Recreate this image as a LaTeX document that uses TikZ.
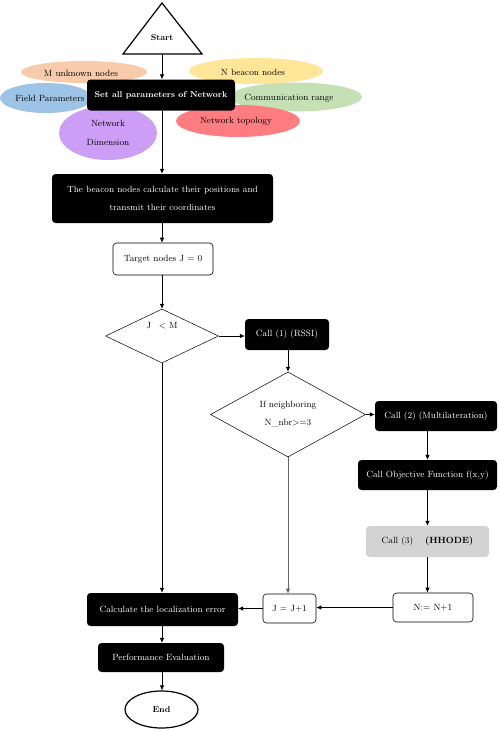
\documentclass[tikz,border=0pt]{standalone}
\usetikzlibrary{shapes.geometric,arrows.meta}
\definecolor{cpeach}{HTML}{F8CBAD}
\definecolor{cyellow}{HTML}{FFE699}
\definecolor{cblue}{HTML}{9DC3E6}
\definecolor{cgreen}{HTML}{C5E0B4}
\definecolor{cred}{HTML}{FF7C80}
\definecolor{cpurple}{HTML}{CC9EF5}
\definecolor{cgray}{HTML}{D3D3D3}
\begin{document}
\begin{tikzpicture}[x=1pt,y=-1pt,
  font=\fontsize{9}{10}\selectfont,
  boldtext/.style={font=\fontsize{8.5}{10}\selectfont\bfseries},
  blackbox/.style={rectangle, rounded corners=3.5pt, fill=black, text=white, inner sep=0pt},
  whitebox/.style={rectangle, rounded corners=3.5pt, draw=black, line width=0.6pt, fill=white, inner sep=0pt},
  graybox/.style={rectangle, rounded corners=3.5pt, fill=cgray, inner sep=0pt},
  oval/.style={ellipse, inner sep=0pt},
  decision/.style={diamond, draw=black, line width=0.5pt, inner sep=0pt, aspect=2},
  arr/.style={-{Latex[length=5pt,width=4.5pt]}, line width=0.7pt},
  twoline/.style={align=center, font=\fontsize{9}{18.5}\selectfont}]
\useasboundingbox (0,0) rectangle (500,731);
\fill[white] (0,0) rectangle (500,731);

% start triangle
\draw[line width=1.2pt] (162,3) -- (202,54) -- (123,54) -- cycle;
\node[boldtext] (start) at (162,38) {Start};
\coordinate (startb) at (162,54);

% parameter ellipses
\node[oval, fill=cpeach, minimum width=126pt, minimum height=22pt] (munk) at (84,72) {};
\node at (81,73) {M unknown nodes};
\node[oval, fill=cyellow, minimum width=134pt, minimum height=26pt] (nbea) at (256,71) {};
\node at (253,72) {N beacon nodes};
\node[oval, fill=cblue, minimum width=92pt, minimum height=30pt] (field) at (46,98) {};
\node at (50,98) {Field Parameters};
\node[oval, fill=cgreen, minimum width=132pt, minimum height=29pt] (comm) at (296,97) {};
\node at (289,98) {Communication range};
\node[oval, fill=cred, minimum width=124pt, minimum height=32pt] (topo) at (238,121) {};
\node at (236,121) {Network topology};
\node[oval, fill=cpurple, minimum width=98pt, minimum height=54pt] (dim) at (108,133) {};
\node[twoline] at (108,133) {Network\\Dimension};

% main flow
\node[blackbox, boldtext, minimum width=148pt, minimum height=31pt] (setp) at (161,95) {Set all parameters of Network};
\node[blackbox, minimum width=221pt, minimum height=49pt, twoline] (beacon) at (162.5,198.5) {The beacon nodes calculate their positions and\\transmit their coordinates};
\node[whitebox, minimum width=100pt, minimum height=32pt] (target) at (163,259) {Target nodes J = 0};
\node[decision, minimum width=113pt, minimum height=54pt] (d1) at (162,336) {};
\node at (162,326) {J \ \,\textless{} M};
\node[blackbox, minimum width=84pt, minimum height=31pt] (call1) at (287,334.5) {Call (1) (RSSI)};
\node[decision, minimum width=155pt, minimum height=85pt] (d2) at (288,414.5) {};
\node[twoline] at (288,414) {If neighboring\\N\_nbr>=3};
\node[blackbox, minimum width=122pt, minimum height=30pt] (call2) at (436,416) {Call (2) (Multilateration)};
\node[blackbox, minimum width=139pt, minimum height=30pt] (obj) at (427.5,475) {Call Objective Function f(x,y)};
\node[graybox, minimum width=123pt, minimum height=31pt] (hho) at (427.5,541.5) {Call (3) \quad\textbf{(HHODE)}};
\node[whitebox, minimum width=80pt, minimum height=29pt] (ninc) at (433,607.5) {N:= N+1};
\node[whitebox, minimum width=53pt, minimum height=29pt] (jinc) at (289.5,608.5) {J = J+1};
\node[blackbox, minimum width=151pt, minimum height=33pt] (calc) at (162.5,609.5) {Calculate the localization error};
\node[blackbox, minimum width=126pt, minimum height=29pt] (perf) at (161,657.5) {Performance Evaluation};
\node[oval, boldtext, draw=black, line width=1.2pt, minimum width=73pt, minimum height=37pt] (endn) at (161.5,709.5) {End};

% connectors
\draw[arr] (startb) -- (setp.north -| startb);
\draw[arr] (setp.south -| startb) -- (beacon.north -| startb);
\draw[arr] (beacon.south -| startb) -- (target.north -| startb);
\draw[arr] (target.south -| startb) -- (d1.north);
\draw[arr] (d1.east) -- (call1.west |- d1.east);
\draw[arr] (call1.south -| d2.north) -- (d2.north);
\draw[arr] (d2.east) -- (call2.west |- d2.east);
\draw[arr] (call2.south -| obj.north) -- (obj.north);
\draw[arr] (obj.south) -- (hho.north);
\draw[arr] (hho.south) -- (ninc.north -| hho.south);
\draw[arr] (ninc.west) -- (jinc.east |- ninc.west);
\draw[arr, draw=black!60] (d2.south) -- (jinc.north -| d2.south);
\draw[arr] (jinc.west) -- (calc.east |- jinc.west);
\draw[arr] (d1.south) -- (calc.north -| d1.south);
\draw[arr] (calc.south -| startb) -- (perf.north -| startb);
\draw[arr] (perf.south -| startb) -- (endn.north -| startb);
\end{tikzpicture}
\end{document}
